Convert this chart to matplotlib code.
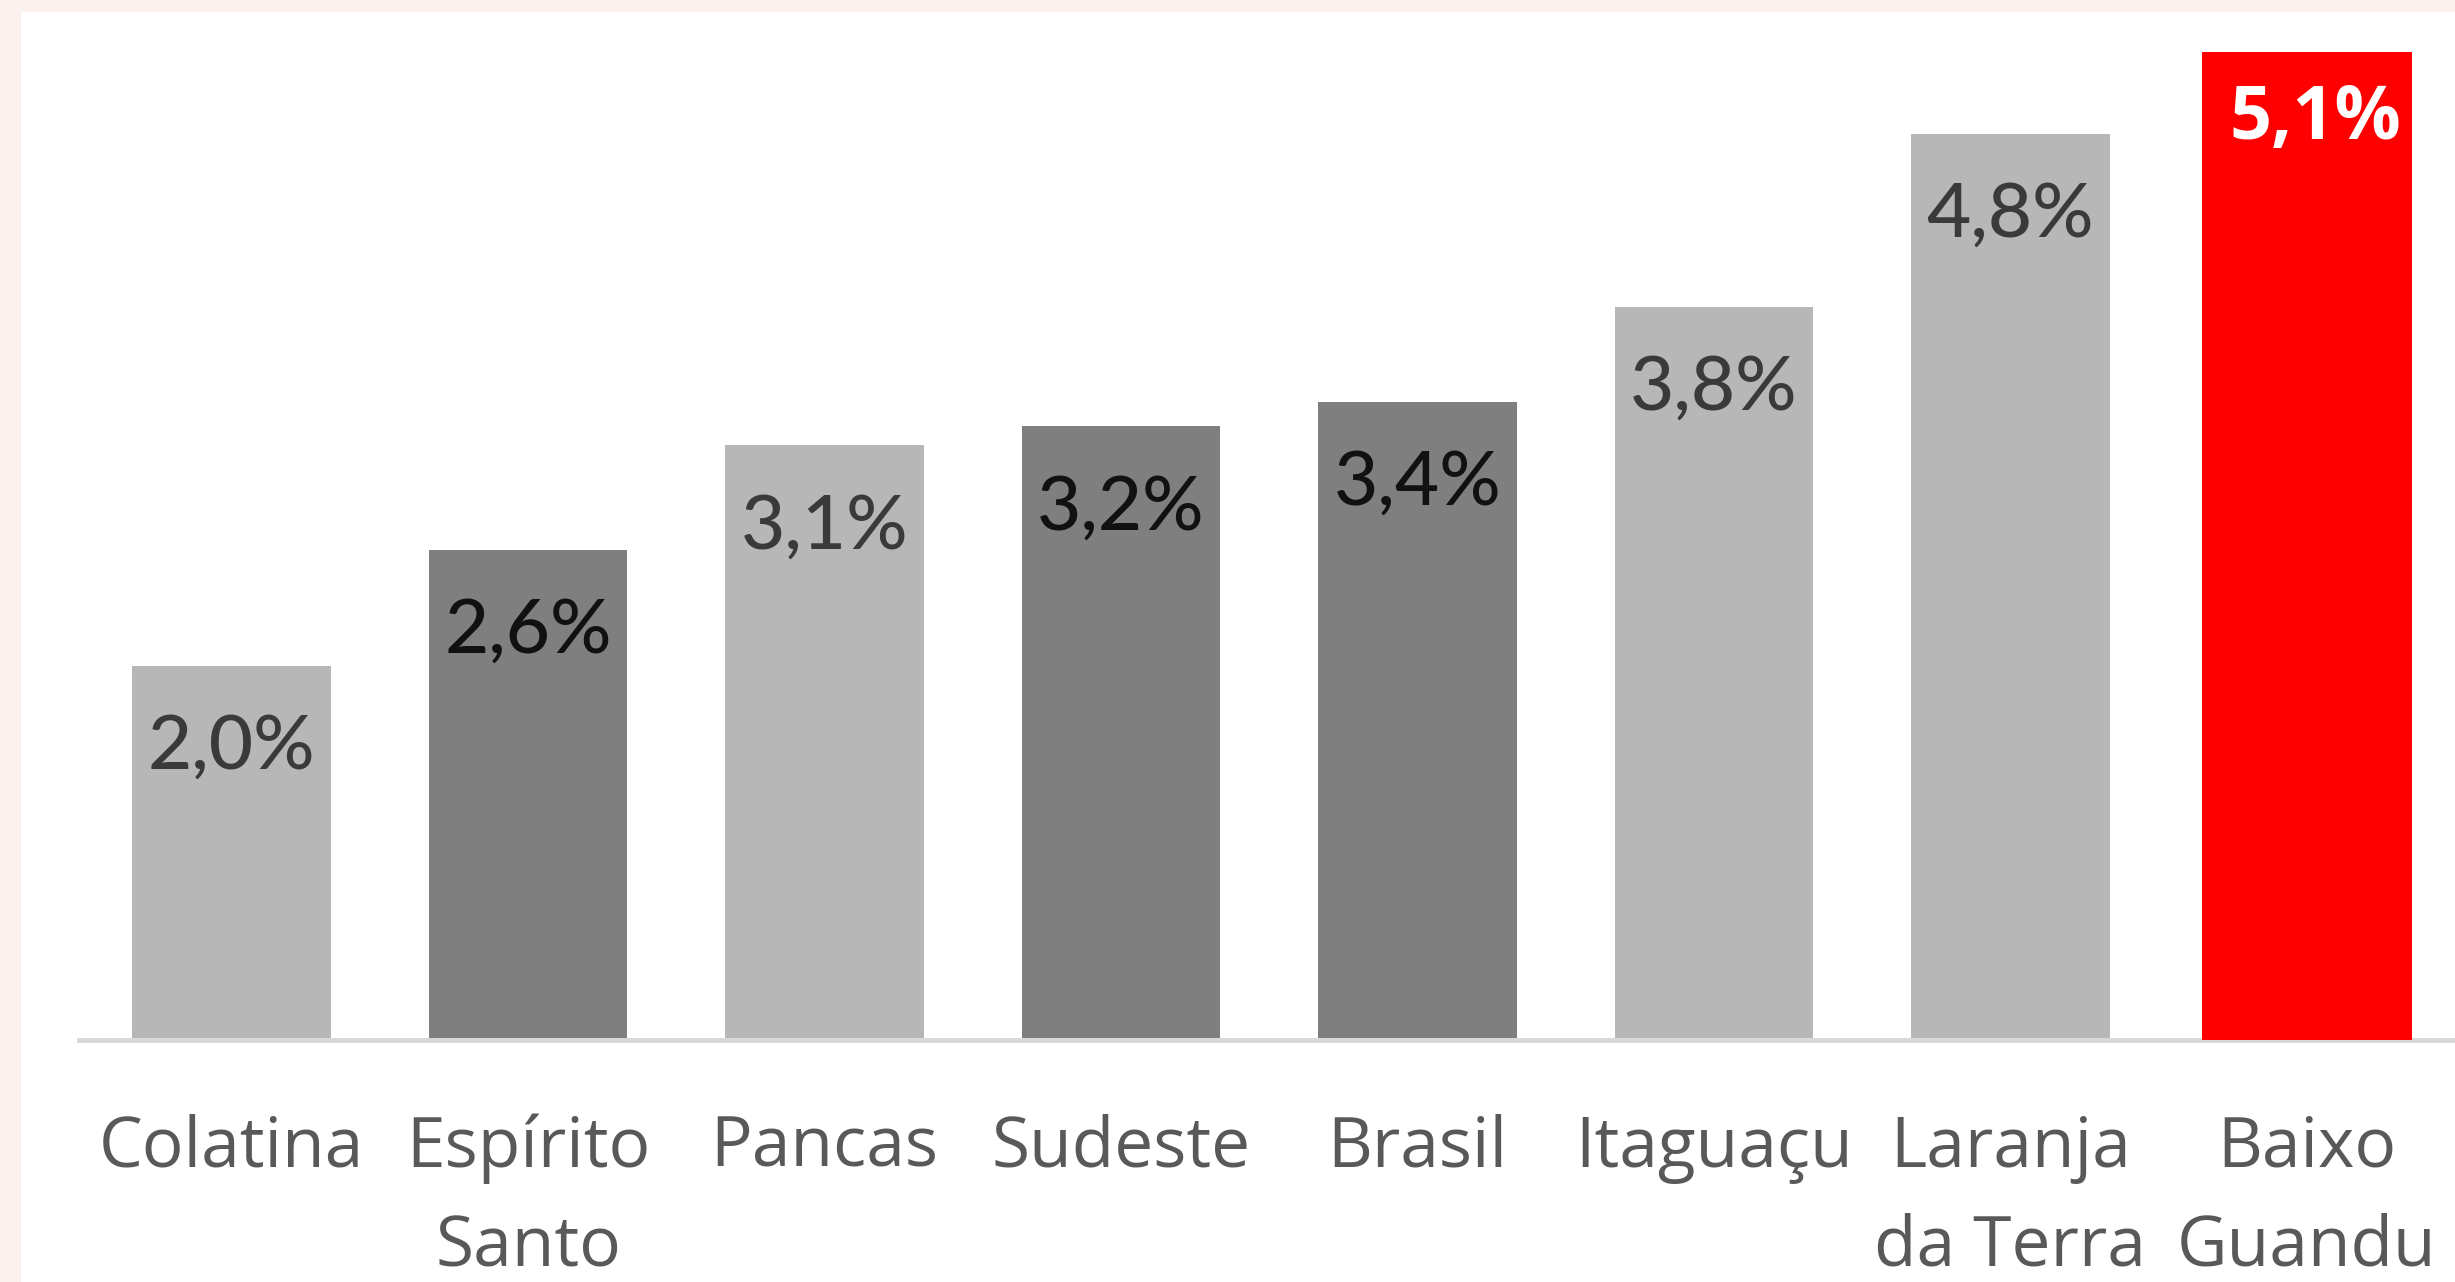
import matplotlib.pyplot as plt
from matplotlib.patches import Rectangle

categories = ['Colatina', 'Espírito\nSanto', 'Pancas', 'Sudeste', 'Brasil',
              'Itaguaçu', 'Laranja\nda Terra', 'Baixo\nGuandu']
values = [1.97, 2.58, 3.13, 3.23, 3.36, 3.86, 4.77, 5.2]
value_labels = ['2,0%', '2,6%', '3,1%', '3,2%', '3,4%', '3,8%', '4,8%', '5,1%']
shade = ['light', 'dark', 'light', 'dark', 'dark', 'light', 'light', 'red']

fill = {'light': '#B7B7B7', 'dark': '#7F7F7F', 'red': '#FF0000'}
text_col = {'light': '#3A3A3A', 'dark': '#111111', 'red': '#FFFFFF'}

W, H = 2455, 1282
fig = plt.figure(figsize=(W / 100, H / 100), dpi=100)
fig.patch.set_facecolor('#FCF1EE')
fig.patches.append(Rectangle((21 / W, 0), 1, 1 - 12 / H, transform=fig.transFigure,
                             facecolor='white', edgecolor='none', zorder=-5))

ax = fig.add_axes([79 / W, 242 / H, 1 - 79 / W, 1026 / H])
ax.set_facecolor('none')

x = list(range(len(categories)))
for i, (v, s) in enumerate(zip(values, shade)):
    if s == 'red':
        ax.bar(i, v + 0.03, bottom=-0.03, width=0.71, color=fill[s], zorder=3)
        ax.text(i + 0.03, v - 0.36, value_labels[i], ha='center', va='center',
                fontsize=53, fontweight='bold', color=text_col[s],
                family=['Open Sans', 'DejaVu Sans'], zorder=4)
    else:
        ax.bar(i, v, width=0.67, color=fill[s], zorder=1)
        ax.text(i, v - 0.43, value_labels[i], ha='center', va='center',
                fontsize=55, fontweight='medium', color=text_col[s],
                family=['Lato', 'DejaVu Sans'], zorder=4)

ax.set_xlim(-0.515, 7.50)
ax.set_ylim(0, 5.4)
ax.set_xticks(x)
ax.set_xticklabels(categories, fontsize=50, color='#595959', linespacing=1.55,
                   family=['Open Sans', 'DejaVu Sans'])
ax.tick_params(axis='x', length=0, pad=53)
ax.set_yticks([])
for side in ['top', 'left', 'right']:
    ax.spines[side].set_visible(False)
ax.spines['bottom'].set_color('#D9D9D9')
ax.spines['bottom'].set_linewidth(3.6)

fig.savefig('out.png', dpi=100)
